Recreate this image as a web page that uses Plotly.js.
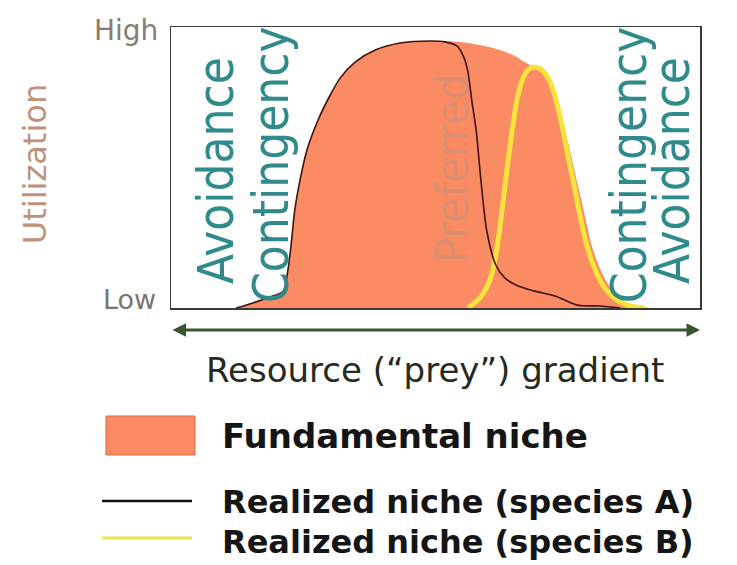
<!DOCTYPE html>
<html>
<head>
<meta charset="utf-8">
<script src="https://cdn.plot.ly/plotly-3.0.1.min.js"></script>
<style>html,body{margin:0;padding:0;background:#fff;}</style>
</head>
<body>
<div id="chart" style="width:737px;height:565px;"></div>
<script>
// Resource gradient position (0-100) and utilization (0 = Low, 100 = High)
const fundX = [12.3,15.5,18.7,21.2,22.1,22.7,23.4,24.4,25.7,27.8,30.1,32.0,34.8,38.6,43.3,49.0,54.6,58.4,62.2,65.0,67.5,69.8,71.6,72.9,74.3,75.5,76.9,78.2,79.5,81.2,83.1,85.4,88.2,90.5];
const fundY = [0,1.8,3.9,6.0,13.5,22.4,34.9,45.6,56.2,66.9,75.8,81.9,87.5,91.8,94.3,95.0,94.7,93.6,91.8,89.7,86.8,84.7,81.1,74.7,65.1,55.2,43.8,33.1,22.4,13.5,7.1,2.8,0.7,0];

const spAX = [12.3,15.5,18.7,21.2,22.1,22.7,23.4,24.4,25.7,27.8,30.1,32.0,34.8,38.6,43.3,49.0,51.8,54.1,55.4,56.1,56.9,57.7,58.6,59.7,61.4,63.1,65.6,68.8,72.6,76.7,81.1,84.9];
const spAY = [0,1.8,3.9,6.0,13.5,22.4,34.9,45.6,56.2,66.9,75.8,81.9,87.5,91.8,94.3,95.0,94.7,93.2,89.0,84.3,73.3,63.0,45.2,27.4,15.3,10.7,7.8,6.0,4.3,1.1,0.7,0];

const spBX = [56.1,58.4,60.3,61.6,62.6,63.5,64.5,65.4,66.4,67.5,68.8,70.1,71.5,72.8,73.9,75.0,76.2,77.3,78.6,80.2,82.0,84.3,86.8,89.6];
const spBY = [0,3.6,10.0,21.0,35.2,49.1,63.3,74.0,81.1,84.7,85.8,84.7,81.1,74.0,65.1,54.4,43.8,33.1,22.4,13.5,7.1,2.8,0.7,0];

const yTickVals = [3, 98];
const yTickText = ["Low", "High"];
const legendLabels = ["Fundamental niche", "Realized niche (species A)", "Realized niche (species B)"];
const zoneLabels = ["Avoidance", "Contingency", "Preferred", "Contingency", "Avoidance"];
const zoneX = [8.5, 19.1, 53.1, 86.8, 94.9];
const zoneY = [49.1, 50.9, 49.8, 50.9, 48.8];

const orange = '#fa8b63';
const teal = '#2f8a8c';
const narrow = 'Liberation Sans Narrow, DejaVu Sans Condensed, sans-serif';

const traces = [
  {x: fundX, y: fundY, type: 'scatter', mode: 'lines', fill: 'tozeroy', fillcolor: orange,
   line: {width: 0, shape: 'spline', smoothing: 0.8, color: orange}, hoverinfo: 'skip', name: legendLabels[0]},
  {x: spBX, y: spBY, type: 'scatter', mode: 'lines',
   line: {width: 5, shape: 'spline', smoothing: 0.8, color: '#f6e43c'}, name: legendLabels[2]},
  {x: spAX, y: spAY, type: 'scatter', mode: 'lines',
   line: {width: 1.6, shape: 'spline', smoothing: 0.8, color: '#3c1414'}, name: legendLabels[1]}
];

const annotations = [];
zoneLabels.forEach((t, i) => {
  const pref = (t === 'Preferred');
  annotations.push({x: zoneX[i], y: zoneY[i], xref: 'x', yref: 'y', text: t, showarrow: false,
    textangle: -90, xanchor: 'center', yanchor: 'middle',
    font: {family: narrow, size: pref ? 46 : 49, color: pref ? 'rgba(150,150,140,0.3)' : teal}});
});
// y tick labels
annotations.push({x: -0.021, y: 0.989, xref: 'paper', yref: 'paper', text: yTickText[1], showarrow: false,
  xanchor: 'right', yanchor: 'middle', font: {family: 'DejaVu Sans', size: 28, color: '#8a7a72'}});
annotations.push({x: -0.025, y: 0.0285, xref: 'paper', yref: 'paper', text: yTickText[0], showarrow: false,
  xanchor: 'right', yanchor: 'middle', font: {family: 'DejaVu Sans', size: 27, color: '#7a7472'}});
// y title
annotations.push({x: -0.257, y: 0.512, xref: 'paper', yref: 'paper', text: 'Utilization', showarrow: false,
  textangle: -90, xanchor: 'center', yanchor: 'middle', font: {family: 'DejaVu Sans', size: 32, color: '#bf927c'}});
// gradient arrow
annotations.push({x: 100, y: -0.078, xref: 'x', yref: 'paper', ax: 0, ay: 0, axref: 'x', ayref: 'pixel',
  text: '', showarrow: true, arrowside: 'end+start', arrowhead: 2, arrowsize: 0.9, arrowwidth: 3, arrowcolor: '#3a5432'});
// x title
annotations.push({x: 0.499, y: -0.221, xref: 'paper', yref: 'paper', text: 'Resource (\u201cprey\u201d) gradient', showarrow: false,
  xanchor: 'center', yanchor: 'middle', font: {family: 'DejaVu Sans', size: 34, color: '#262a1e'}});
// legend texts
const legY = [-0.4555, -0.6904, -0.8327];
legendLabels.forEach((t, i) => {
  annotations.push({x: 0.0926, y: legY[i], xref: 'paper', yref: 'paper', text: t, showarrow: false,
    xanchor: 'left', yanchor: 'middle', font: {family: 'DejaVu Sans', size: i === 0 ? 34 : 32, weight: 'bold', color: '#151515'}});
});

const shapes = [
  {type: 'rect', xref: 'paper', yref: 'paper', x0: -0.1229, x1: 0.0454, y0: -0.3843, y1: -0.5231,
   fillcolor: orange, line: {color: '#d86a48', width: 1}},
  {type: 'line', xref: 'paper', yref: 'paper', x0: -0.1304, x1: 0.0397, y0: -0.6868, y1: -0.6868,
   line: {color: '#111', width: 2.5}},
  {type: 'line', xref: 'paper', yref: 'paper', x0: -0.1304, x1: 0.0397, y0: -0.8185, y1: -0.8185,
   line: {color: '#e8e64c', width: 3}}
];

const layout = {
  width: 737, height: 565,
  margin: {l: 171, r: 37, t: 27, b: 257},
  paper_bgcolor: '#ffffff', plot_bgcolor: '#ffffff',
  showlegend: false,
  xaxis: {range: [0, 100], showgrid: false, zeroline: false, showticklabels: false, ticks: '',
          showline: true, mirror: true, linecolor: '#3a3a3a', linewidth: 1.5, fixedrange: true},
  yaxis: {range: [0, 100], showgrid: false, zeroline: false, showticklabels: false, ticks: '',
          tickvals: yTickVals, ticktext: yTickText,
          showline: true, mirror: true, linecolor: '#3a3a3a', linewidth: 1.5, fixedrange: true},
  annotations: annotations,
  shapes: shapes
};

Plotly.newPlot('chart', traces, layout, {displayModeBar: false, staticPlot: true});
</script>
</body>
</html>
